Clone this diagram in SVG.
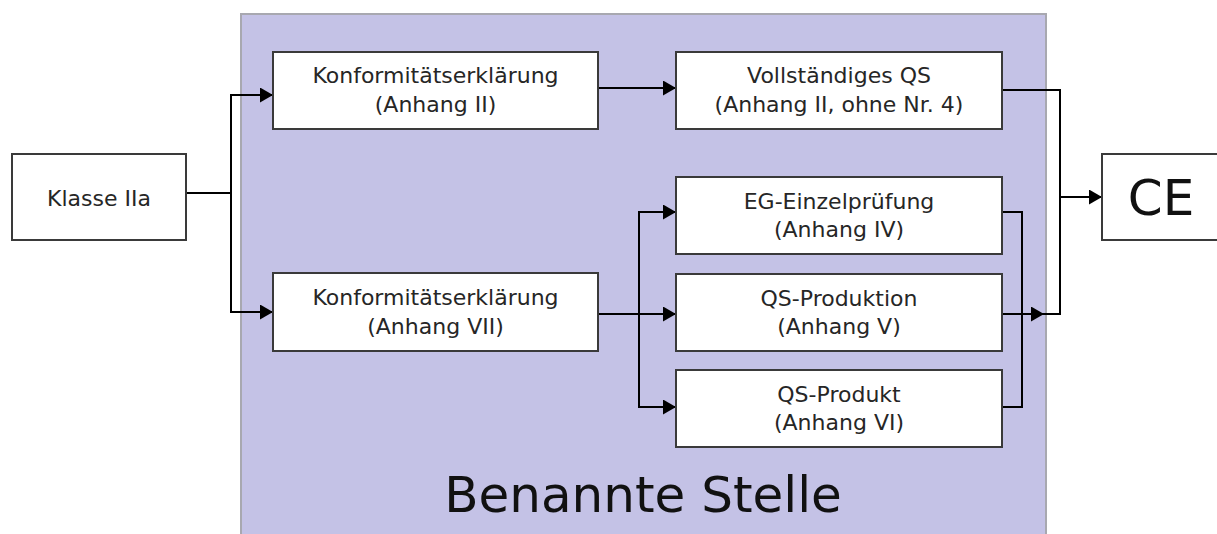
<svg xmlns="http://www.w3.org/2000/svg" width="1217" height="534" viewBox="0 0 1217 534">
<style>
.box{fill:#ffffff;stroke:#3a3a3a;stroke-width:2}
.t{font-family:"DejaVu Sans",sans-serif;font-size:22px;fill:#262626;text-anchor:middle}
.big{font-family:"DejaVu Sans",sans-serif;font-size:50px;fill:#111;text-anchor:middle}
.c{fill:none;stroke:#000;stroke-width:2}
</style>
<defs>
<marker id="ah" markerUnits="userSpaceOnUse" markerWidth="13" markerHeight="15" refX="13" refY="7.5" orient="auto">
<path d="M0,0 L13,7.5 L0,15 z" fill="#000"/>
</marker>
</defs>
<rect x="0" y="0" width="1217" height="534" fill="#ffffff"/>
<g id="benannte-stelle">
<rect x="241" y="14" width="805" height="530" fill="#c4c2e6" stroke="#a8a8b0" stroke-width="2"/>
<text class="big" x="643" y="512">Benannte Stelle</text>
</g>
<g id="connectors">
<path class="c" d="M186,193 H231 V95 H273" marker-end="url(#ah)"/>
<path class="c" d="M231,193 V312 H273" marker-end="url(#ah)"/>
<path class="c" d="M598,88 H676" marker-end="url(#ah)"/>
<path class="c" d="M598,314 H676" marker-end="url(#ah)"/>
<path class="c" d="M639,314 V212 H676" marker-end="url(#ah)"/>
<path class="c" d="M639,314 V407 H676" marker-end="url(#ah)"/>
<path class="c" d="M1002,212 H1022 V407 H1002"/>
<path class="c" d="M1002,314 H1044" marker-end="url(#ah)"/>
<path class="c" d="M1040,314 H1060 V90 H1002"/>
<path class="c" d="M1060,197 H1102" marker-end="url(#ah)"/>
</g>
<g id="klasse">
<rect class="box" x="12" y="154" width="174" height="86"/>
<text class="t" x="99" y="206">Klasse IIa</text>
</g>
<g id="konf-ii">
<rect class="box" x="273" y="52" width="325" height="77"/>
<text class="t" x="435.5" y="83">Konformitätserklärung</text>
<text class="t" x="435.5" y="112">(Anhang II)</text>
</g>
<g id="konf-vii">
<rect class="box" x="273" y="273" width="325" height="78"/>
<text class="t" x="435.5" y="305">Konformitätserklärung</text>
<text class="t" x="435.5" y="334">(Anhang VII)</text>
</g>
<g id="vollst-qs">
<rect class="box" x="676" y="52" width="326" height="77"/>
<text class="t" x="839" y="83">Vollständiges QS</text>
<text class="t" x="839" y="112">(Anhang II, ohne Nr. 4)</text>
</g>
<g id="eg-einzel">
<rect class="box" x="676" y="177" width="326" height="77"/>
<text class="t" x="839" y="209">EG-Einzelprüfung</text>
<text class="t" x="839" y="237">(Anhang IV)</text>
</g>
<g id="qs-produktion">
<rect class="box" x="676" y="274" width="326" height="77"/>
<text class="t" x="839" y="306">QS-Produktion</text>
<text class="t" x="839" y="334">(Anhang V)</text>
</g>
<g id="qs-produkt">
<rect class="box" x="676" y="370" width="326" height="77"/>
<text class="t" x="839" y="402">QS-Produkt</text>
<text class="t" x="839" y="430">(Anhang VI)</text>
</g>
<g id="ce">
<rect class="box" x="1102" y="154" width="130" height="86"/>
<text class="big" x="1161" y="215">CE</text>
</g>
</svg>
